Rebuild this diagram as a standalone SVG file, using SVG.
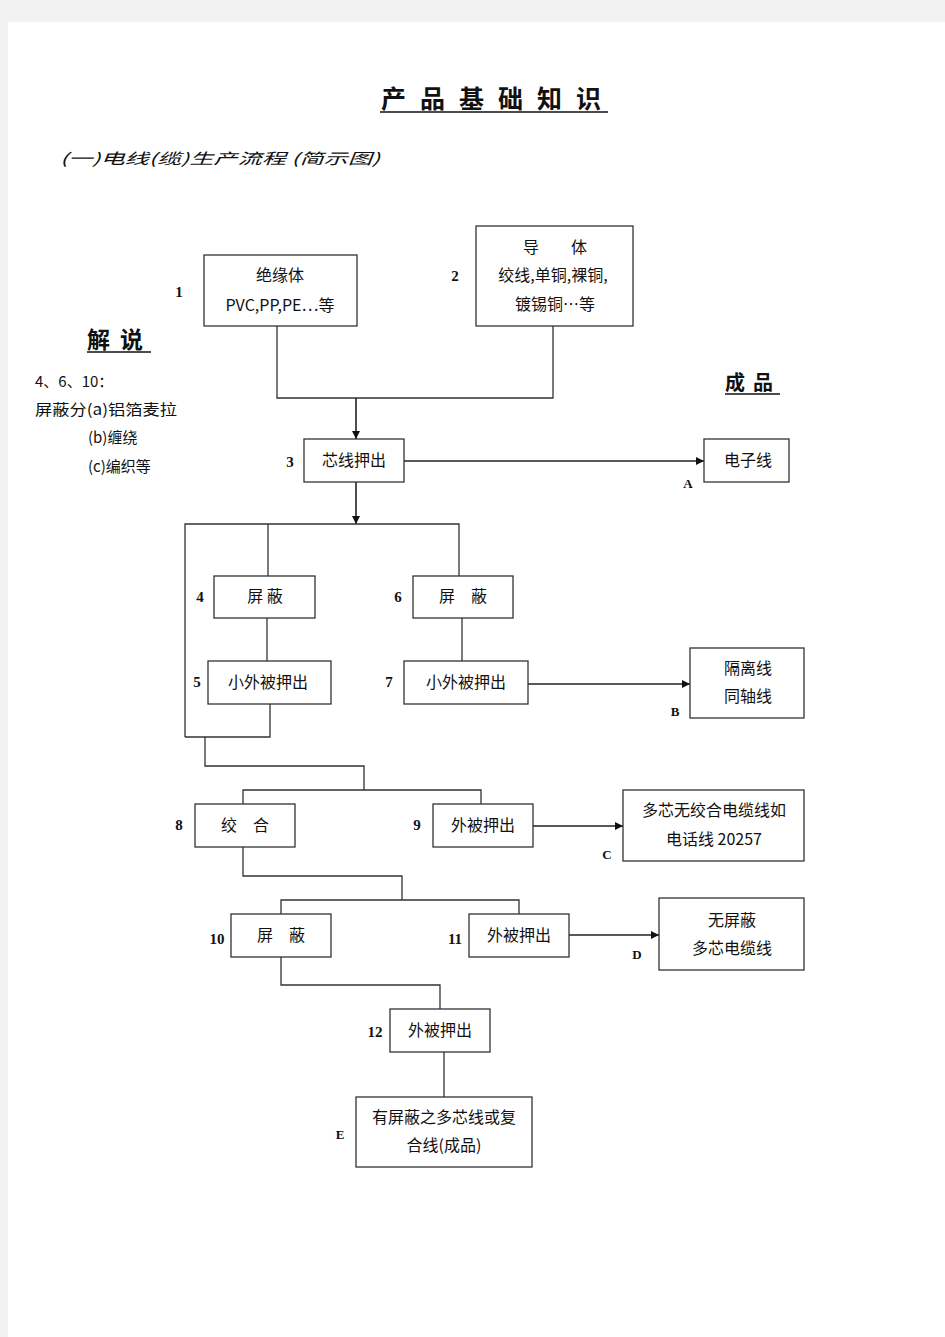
<svg xmlns="http://www.w3.org/2000/svg" width="945" height="1337" viewBox="0 0 945 1337">
<style>
.page{fill:#ffffff}
.box{fill:#ffffff;stroke:#333333;stroke-width:1.3}
.t{font-family:"Noto Sans CJK SC","Noto Sans",sans-serif;font-size:16px;fill:#111111;text-anchor:middle}
.tl{font-family:"Noto Sans CJK SC","Noto Sans",sans-serif;font-size:15px;fill:#111111}
.num{font-family:"Liberation Serif",serif;font-weight:bold;font-size:15px;fill:#111111;text-anchor:middle}
.let{font-family:"Liberation Serif",serif;font-weight:bold;font-size:13px;fill:#111111;text-anchor:middle}
.hd{font-family:"Noto Sans CJK SC",serif;font-weight:bold;fill:#111111}
.ln{fill:none;stroke:#333333;stroke-width:1.3}
.ar{fill:none;stroke:#222222;stroke-width:1.6;marker-end:url(#ah)}
</style>
<defs>
<marker id="ah" viewBox="0 0 10 10" refX="10" refY="5" markerWidth="8" markerHeight="8" markerUnits="userSpaceOnUse" orient="auto">
<path d="M0,0 L10,5 L0,10 z" fill="#111111"/>
</marker>
</defs>
<rect x="0" y="0" width="945" height="1337" fill="#f2f2f2"/>
<rect class="page" x="8" y="22" width="937" height="1315"/>

<g id="title">
<text class="hd" x="381" y="108" font-size="25" letter-spacing="14">产品基础知识</text>
<line x1="380" y1="112" x2="608" y2="112" stroke="#111" stroke-width="1.4"/>
</g>
<g id="subtitle">
<text class="tl" x="60" y="164" font-size="22" font-style="italic" textLength="320" lengthAdjust="spacingAndGlyphs">(一)电线(缆)生产流程 (简示图)</text>
</g>

<g id="explain">
<text class="hd" x="87" y="348" font-size="23" letter-spacing="10">解说</text>
<line x1="87" y1="352" x2="151" y2="352" stroke="#111" stroke-width="1.4"/>
<text class="tl" x="35" y="387">4、6、10：</text>
<text class="tl" x="35" y="415" textLength="142" lengthAdjust="spacingAndGlyphs">屏蔽分(a)铝箔麦拉</text>
<text class="tl" x="88" y="443">(b)缠绕</text>
<text class="tl" x="88" y="472">(c)编织等</text>
</g>

<g id="product-heading">
<text class="hd" x="725" y="390" font-size="20" letter-spacing="8">成品</text>
<line x1="725" y1="394" x2="780" y2="394" stroke="#111" stroke-width="1.4"/>
</g>

<g id="connectors">
<polyline class="ln" points="277,326 277,398 553,398 553,326"/>
<line class="ar" x1="356" y1="398" x2="356" y2="439"/>
<line class="ar" x1="404" y1="461" x2="704" y2="461"/>
<line class="ar" x1="356" y1="482" x2="356" y2="524"/>
<polyline class="ln" points="185,737 185,524 459,524 459,576"/>
<line class="ln" x1="268" y1="524" x2="268" y2="576"/>
<line class="ln" x1="267" y1="618" x2="267" y2="661"/>
<line class="ln" x1="462" y1="618" x2="462" y2="661"/>
<polyline class="ln" points="185,737 270,737 270,704"/>
<line class="ar" x1="528" y1="684" x2="690" y2="684"/>
<polyline class="ln" points="205,737 205,766 364,766 364,790"/>
<polyline class="ln" points="243,804 243,790 481,790 481,804"/>
<line class="ar" x1="533" y1="826" x2="623" y2="826"/>
<polyline class="ln" points="243,847 243,876 402,876 402,900"/>
<polyline class="ln" points="281,914 281,900 519,900 519,914"/>
<line class="ar" x1="569" y1="935" x2="659" y2="935"/>
<polyline class="ln" points="281,957 281,985 440,985 440,1009"/>
<line class="ln" x1="444" y1="1052" x2="444" y2="1097"/>
</g>

<g id="n1">
<rect class="box" x="204" y="255" width="153" height="71"/>
<text class="t" x="280" y="281">绝缘体</text>
<text class="t" x="280" y="311">PVC,PP,PE…等</text>
<text class="num" x="179" y="297">1</text>
</g>
<g id="n2">
<rect class="box" x="476" y="226" width="157" height="100"/>
<text class="t" x="555" y="253">导　　体</text>
<text class="t" x="553" y="281">绞线,单铜,裸铜,</text>
<text class="t" x="555" y="310">镀锡铜…等</text>
<text class="num" x="455" y="281">2</text>
</g>
<g id="n3">
<rect class="box" x="304" y="439" width="100" height="43"/>
<text class="t" x="354" y="466">芯线押出</text>
<text class="num" x="290" y="467">3</text>
</g>
<g id="nA">
<rect class="box" x="704" y="439" width="85" height="43"/>
<text class="t" x="748" y="466">电子线</text>
<text class="let" x="688" y="488">A</text>
</g>
<g id="n4">
<rect class="box" x="214" y="576" width="101" height="42"/>
<text class="t" x="265" y="602">屏 蔽</text>
<text class="num" x="200" y="602">4</text>
</g>
<g id="n5">
<rect class="box" x="208" y="661" width="123" height="43"/>
<text class="t" x="268" y="688">小外被押出</text>
<text class="num" x="197" y="687">5</text>
</g>
<g id="n6">
<rect class="box" x="413" y="576" width="100" height="42"/>
<text class="t" x="463" y="602">屏　蔽</text>
<text class="num" x="398" y="602">6</text>
</g>
<g id="n7">
<rect class="box" x="404" y="661" width="124" height="43"/>
<text class="t" x="466" y="688">小外被押出</text>
<text class="num" x="389" y="687">7</text>
</g>
<g id="nB">
<rect class="box" x="690" y="648" width="114" height="70"/>
<text class="t" x="748" y="674">隔离线</text>
<text class="t" x="748" y="702">同轴线</text>
<text class="let" x="675" y="716">B</text>
</g>
<g id="n8">
<rect class="box" x="195" y="804" width="100" height="43"/>
<text class="t" x="245" y="831">绞　合</text>
<text class="num" x="179" y="830">8</text>
</g>
<g id="n9">
<rect class="box" x="433" y="804" width="100" height="43"/>
<text class="t" x="483" y="831">外被押出</text>
<text class="num" x="417" y="830">9</text>
</g>
<g id="nC">
<rect class="box" x="623" y="790" width="181" height="71"/>
<text class="t" x="714" y="816">多芯无绞合电缆线如</text>
<text class="t" x="714" y="845">电话线 20257</text>
<text class="let" x="607" y="859">C</text>
</g>
<g id="n10">
<rect class="box" x="231" y="914" width="100" height="43"/>
<text class="t" x="281" y="941">屏　蔽</text>
<text class="num" x="217" y="944">10</text>
</g>
<g id="n11">
<rect class="box" x="469" y="914" width="100" height="43"/>
<text class="t" x="519" y="941">外被押出</text>
<text class="num" x="455" y="944">11</text>
</g>
<g id="nD">
<rect class="box" x="659" y="898" width="145" height="72"/>
<text class="t" x="732" y="926">无屏蔽</text>
<text class="t" x="732" y="954">多芯电缆线</text>
<text class="let" x="637" y="959">D</text>
</g>
<g id="n12">
<rect class="box" x="390" y="1009" width="100" height="43"/>
<text class="t" x="440" y="1036">外被押出</text>
<text class="num" x="375" y="1037">12</text>
</g>
<g id="nE">
<rect class="box" x="356" y="1097" width="176" height="70"/>
<text class="t" x="444" y="1123">有屏蔽之多芯线或复</text>
<text class="t" x="444" y="1151">合线(成品)</text>
<text class="let" x="340" y="1139">E</text>
</g>
</svg>
